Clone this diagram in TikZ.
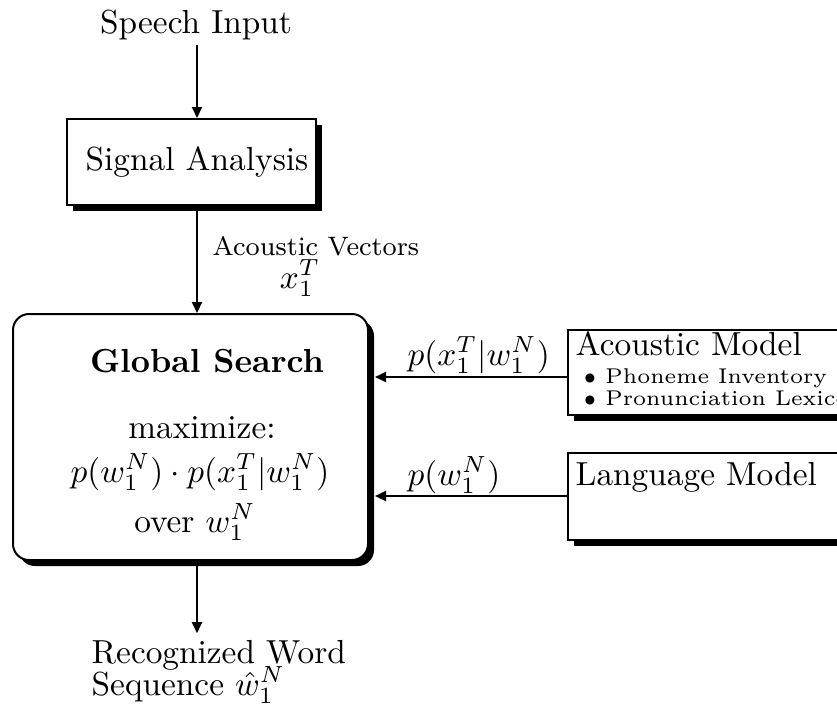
\documentclass[tikz,border=0pt]{standalone}
\usetikzlibrary{arrows.meta,shadows,calc}
\begin{document}
\begin{tikzpicture}[x=0.3pt,y=-0.3pt,
  box/.style={draw, line width=0.6pt, fill=white, inner sep=0pt,
    drop shadow={shadow xshift=1.8pt, shadow yshift=-1.8pt, fill=black, opacity=1}},
  arr/.style={line width=0.6pt, -{Triangle[length=3.3pt,width=3pt]}},
  txt/.style={inner sep=0pt, anchor=base},
  txtw/.style={inner sep=0pt, anchor=base west},
  itemtxt/.style={txtw, font=\fontsize{6.4}{7}\selectfont}]
\useasboundingbox (0,0) rectangle (837,709);

% processing blocks
\node[box, minimum width=74.7pt, minimum height=25.8pt] (sig) at (191.5,162) {\hspace*{3.3pt}Signal Analysis};
\node[box, rounded corners=4.8pt, minimum width=106.5pt, minimum height=73.8pt] (search) at (190.5,437) {};
\node[box, minimum width=105.6pt, minimum height=25.5pt] (am) at (744,372.5) {};
\node[box, minimum width=105.6pt, minimum height=26.1pt] (lm) at (744,496.5) {};

% text inside the search block
\node[txt] (gs) at (207,372) {\bfseries Global Search};
\node[txt] (mx) at (202,438) {maximize:};
\node[txt] (obj) at (200,482) {$p(w_1^N)\cdot p(x_1^T|w_1^N)$};
\node[txt] (ov) at (195,532) {over $w_1^N$};

% knowledge sources
\node[txtw] (amt) at (575,355) {Acoustic Model};
\node[itemtxt] (b1) at (583,383) {$\bullet$ Phoneme Inventory};
\node[itemtxt] (b2) at (583,405) {$\bullet$ Pronunciation Lexicon};
\node[txtw] (lmt) at (575,485) {Language Model};

% input, output and edge labels
\node[txt] (speech) at (196,33) {Speech Input};
\node[txtw] (av) at (212,255) {\footnotesize Acoustic Vectors};
\node[txt] (xv) at (300,288) {$x_1^T$};
\node[txtw] (pa) at (407,365) {$p(x_1^T|w_1^N)$};
\node[txtw] (pl) at (407,485) {$p(w_1^N)$};
\node[txtw] (rec1) at (91,663) {Recognized Word};
\node[txtw] (rec2) at (91,695) {Sequence $\hat{w}_1^N$};

% connectors
\coordinate (col) at (197,0);
\coordinate (amy) at (0,377);
\coordinate (lmy) at (0,496);
\coordinate (se) at ([xshift=1.8pt]search.east);
\draw[arr] ($(col |- speech.south)+(0,5)$) -- (col |- sig.north);
\draw[arr] (col |- sig.south) -- (col |- search.north);
\draw[arr] ($(col |- search.south)+(0,2)$) -- ($(col |- rec1.north)+(0,-6)$);
\draw[arr] (am.west |- amy) -- (se |- amy);
\draw[arr] (lm.west |- lmy) -- (se |- lmy);
\end{tikzpicture}
\end{document}
